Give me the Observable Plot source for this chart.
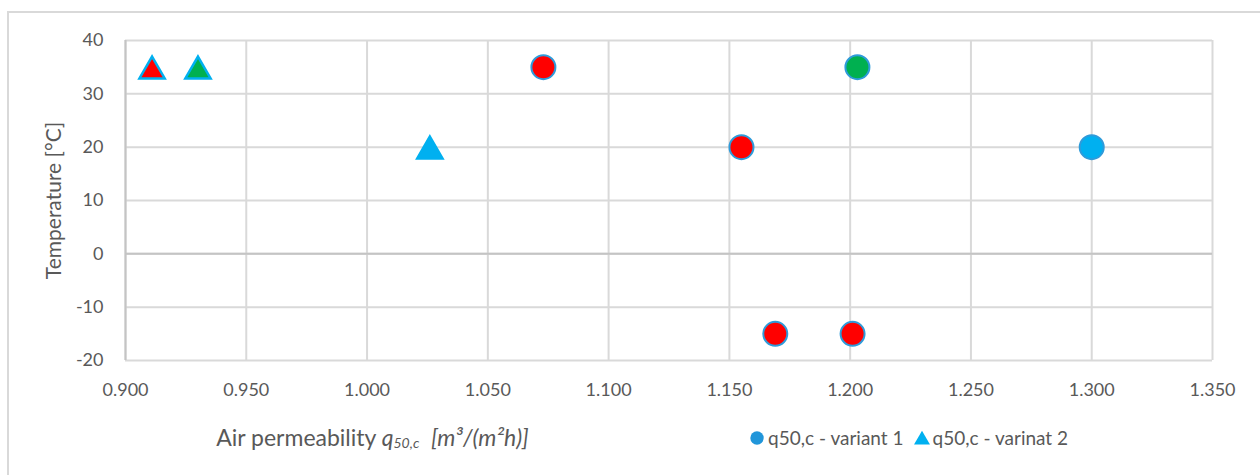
<!DOCTYPE html>
<html>
<head>
<meta charset="utf-8">
<script src="https://cdn.jsdelivr.net/npm/d3@7"></script>
<script src="https://cdn.jsdelivr.net/npm/@observablehq/plot@0.6"></script>
<style>
  html, body { margin: 0; padding: 0; background: #fff; overflow: hidden; }
  #wrap { position: relative; width: 1260px; height: 475px; overflow: hidden; font-family: Lato, "Open Sans", sans-serif; color: #595959; }
  #frame { position: absolute; left: 7px; top: 11px; width: 1300px; height: 500px; border-left: 2px solid #d9d9d9; border-top: 2px solid #d9d9d9; pointer-events: none; }
  #chart { position: absolute; left: 0; top: 0; }
  #bottom { position: absolute; left: 0; top: 415px; width: 1260px; height: 60px; }
  #xlabel { position: absolute; left: 0; width: 745px; text-align: center; top: 8px; font-size: 23px; white-space: nowrap; }
  #xlabel i { font-style: italic; }
  #xlabel sub { font-size: 14px; vertical-align: -2px; }
  #legend { position: absolute; left: 749px; top: 11px; font-size: 19px; white-space: nowrap; display: flex; align-items: center; }
  #legend .item { display: flex; align-items: center; margin-right: 10px; }
  #legend svg { margin-right: 3px; }
</style>
</head>
<body>
<div id="wrap">
  <div id="frame"></div>
  <div id="chart"></div>
  <div id="bottom">
    <div id="xlabel">Air permeability <i>q<sub>50,c</sub></i>&nbsp; <i>[m³/(m²h)]</i></div>
    <div id="legend"></div>
  </div>
</div>
<script>
// ---- data ----
const xTicks = [0.900, 0.950, 1.000, 1.050, 1.100, 1.150, 1.200, 1.250, 1.300, 1.350];
const yTicks = [-20, -10, 0, 10, 20, 30, 40];

const v1Perm = [1.073, 1.203, 1.155, 1.300, 1.169, 1.201];
const v1Temp = [35, 35, 20, 20, -15, -15];
const v1Fill = ["#FF0000", "#00B050", "#FF0000", "#00B0F0", "#FF0000", "#FF0000"];

const v2Perm = [0.911, 0.930, 1.026];
const v2Temp = [35, 35, 20];
const v2Fill = ["#FF0000", "#00B050", "#00B0F0"];

const seriesNames = ["q50,c - variant 1", "q50,c - varinat 2"];
const seriesColors = ["#2196DA", "#00B0F0"];

const v1 = v1Perm.map((p, i) => ({perm: p, temp: v1Temp[i], fill: v1Fill[i]}));
const v2 = v2Perm.map((p, i) => ({perm: p, temp: v2Temp[i], fill: v2Fill[i]}));

const fmt = d3.format(".3f");

const chart = Plot.plot({
  width: 1260,
  height: 415,
  marginLeft: 125,
  marginRight: 48,
  marginTop: 40,
  marginBottom: 55,
  style: {fontFamily: "Lato, 'Open Sans', sans-serif", fontSize: "18px", color: "#595959", background: "transparent", overflow: "visible"},
  x: {domain: [0.9, 1.35]},
  y: {domain: [-20, 40]},
  color: {type: "identity"},
  marks: [
    Plot.gridX(xTicks, {stroke: "#d9d9d9", strokeWidth: 2, strokeOpacity: 1}),
    Plot.gridY(yTicks, {stroke: "#d9d9d9", strokeWidth: 2, strokeOpacity: 1}),
    Plot.ruleY([0], {stroke: "#c4c4c4", strokeWidth: 2}),
    Plot.ruleX([0.9], {stroke: "#c4c4c4", strokeWidth: 2}),
    Plot.axisX({ticks: xTicks, tickSize: 0, tickPadding: 23, tickFormat: fmt, label: null, fontSize: 18}),
    Plot.axisY({ticks: yTicks, tickSize: 0, tickPadding: 22, tickFormat: d => String(d), label: "Temperature [°C]", labelAnchor: "center", labelArrow: "none", labelOffset: 79, fontSize: 18}),
    Plot.dot(v1, {x: "perm", y: "temp", r: 12, symbol: "circle", fill: "fill", stroke: "#2E9BDA", strokeWidth: 2}),
    Plot.dot(v2, {x: "perm", y: "temp", r: 9.4, dy: 4, symbol: "triangle", fill: "fill", stroke: "#00B0F0", strokeWidth: 2.5})
  ]
});
chart.querySelectorAll("[aria-label='y-axis label'] text").forEach(t => t.setAttribute("font-size", "21px"));
document.getElementById("chart").appendChild(chart);

// legend
const legend = document.getElementById("legend");
const symbols = [d3.symbolCircle, d3.symbolTriangle];
seriesNames.forEach((name, i) => {
  const item = document.createElement("div");
  item.className = "item";
  const s = d3.create("svg").attr("width", 16).attr("height", 16);
  s.append("path")
    .attr("transform", i === 0 ? "translate(8,8)" : "translate(8,10)")
    .attr("d", d3.symbol(symbols[i], i === 0 ? 140 : 110)())
    .attr("fill", seriesColors[i]);
  item.appendChild(s.node());
  const span = document.createElement("span");
  span.textContent = name;
  item.appendChild(span);
  legend.appendChild(item);
});
</script>
</body>
</html>
